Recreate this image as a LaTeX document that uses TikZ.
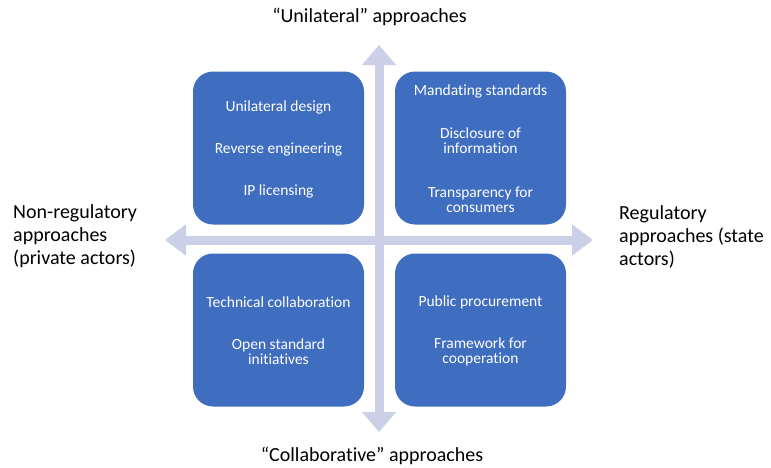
\documentclass[tikz,border=0pt]{standalone}
\usepackage{fontspec}
\setmainfont{Carlito}[Ligatures=NoCommon]
\usepackage{tikz}
\usetikzlibrary{arrows.meta,positioning}
\definecolor{boxblue}{HTML}{3F6DC0}
\definecolor{axisblue}{HTML}{CBD0E8}

\begin{document}
\begin{tikzpicture}[x=1pt,y=-1pt,
	quad/.style={fill=boxblue,rounded corners=20pt,minimum width=171pt,minimum height=153pt,inner sep=0pt},
	item/.style={text=white,font=\fontsize{15.5}{15}\selectfont,align=center},
	side/.style={font=\fontsize{20}{23}\selectfont,align=left,anchor=west,inner sep=0pt},
	axis/.style={line width=9pt,draw=axisblue}]
	\useasboundingbox (0,0) rectangle (771,467);
	\coordinate (west) at (165,240);
	\coordinate (east) at (593,240);
	\coordinate (north) at (379,45);
	\coordinate (south) at (379,432);
	\draw[axis,{Triangle[width=30pt,length=21pt]}-{Triangle[width=30pt,length=21pt]}] (west) -- (east);
	\draw[axis,{Triangle[width=33pt,length=20pt]}-{Triangle[width=33pt,length=20pt]}] (south) -- (north);
	\node[quad] (ul) at (278.5,148) {};
	\node[quad] (ur) at (480.5,148) {};
	\node[quad] (ll) at (278.5,330) {};
	\node[quad] (lr) at (480.5,330) {};
	\node[item] (ul1) at (278.5,107.5) {Unilateral design};
	\node[item] (ul2) at (278.5,149.5) {Reverse engineering};
	\node[item] (ul3) at (278.5,191.5) {IP licensing};
	\node[item] (ur1) at (480.5,91.5) {Mandating standards};
	\node[item] (ur2) at (480.5,141) {Disclosure of\\information};
	\node[item] (ur3) at (480.5,199.5) {Transparency for\\consumers};
	\node[item] (ll1) at (278.5,302.5) {Technical collaboration};
	\node[item] (ll2) at (278.5,352) {Open standard\\initiatives};
	\node[item] (lr1) at (480.5,302.5) {Public procurement};
	\node[item] (lr2) at (480.5,352) {Framework for\\cooperation};
	\node[font=\fontsize{20}{23}\selectfont] (top) at (369.5,17) {“Unilateral” approaches};
	\node[font=\fontsize{20}{23}\selectfont] (bottom) at (372,456) {“Collaborative” approaches};
	\node[side] (left) at (13,236.5) {Non-regulatory\\approaches\\(private actors)};
	\node[side] (right) at (619,236.5) {Regulatory\\approaches (state\\actors)};
\end{tikzpicture}
\end{document}
